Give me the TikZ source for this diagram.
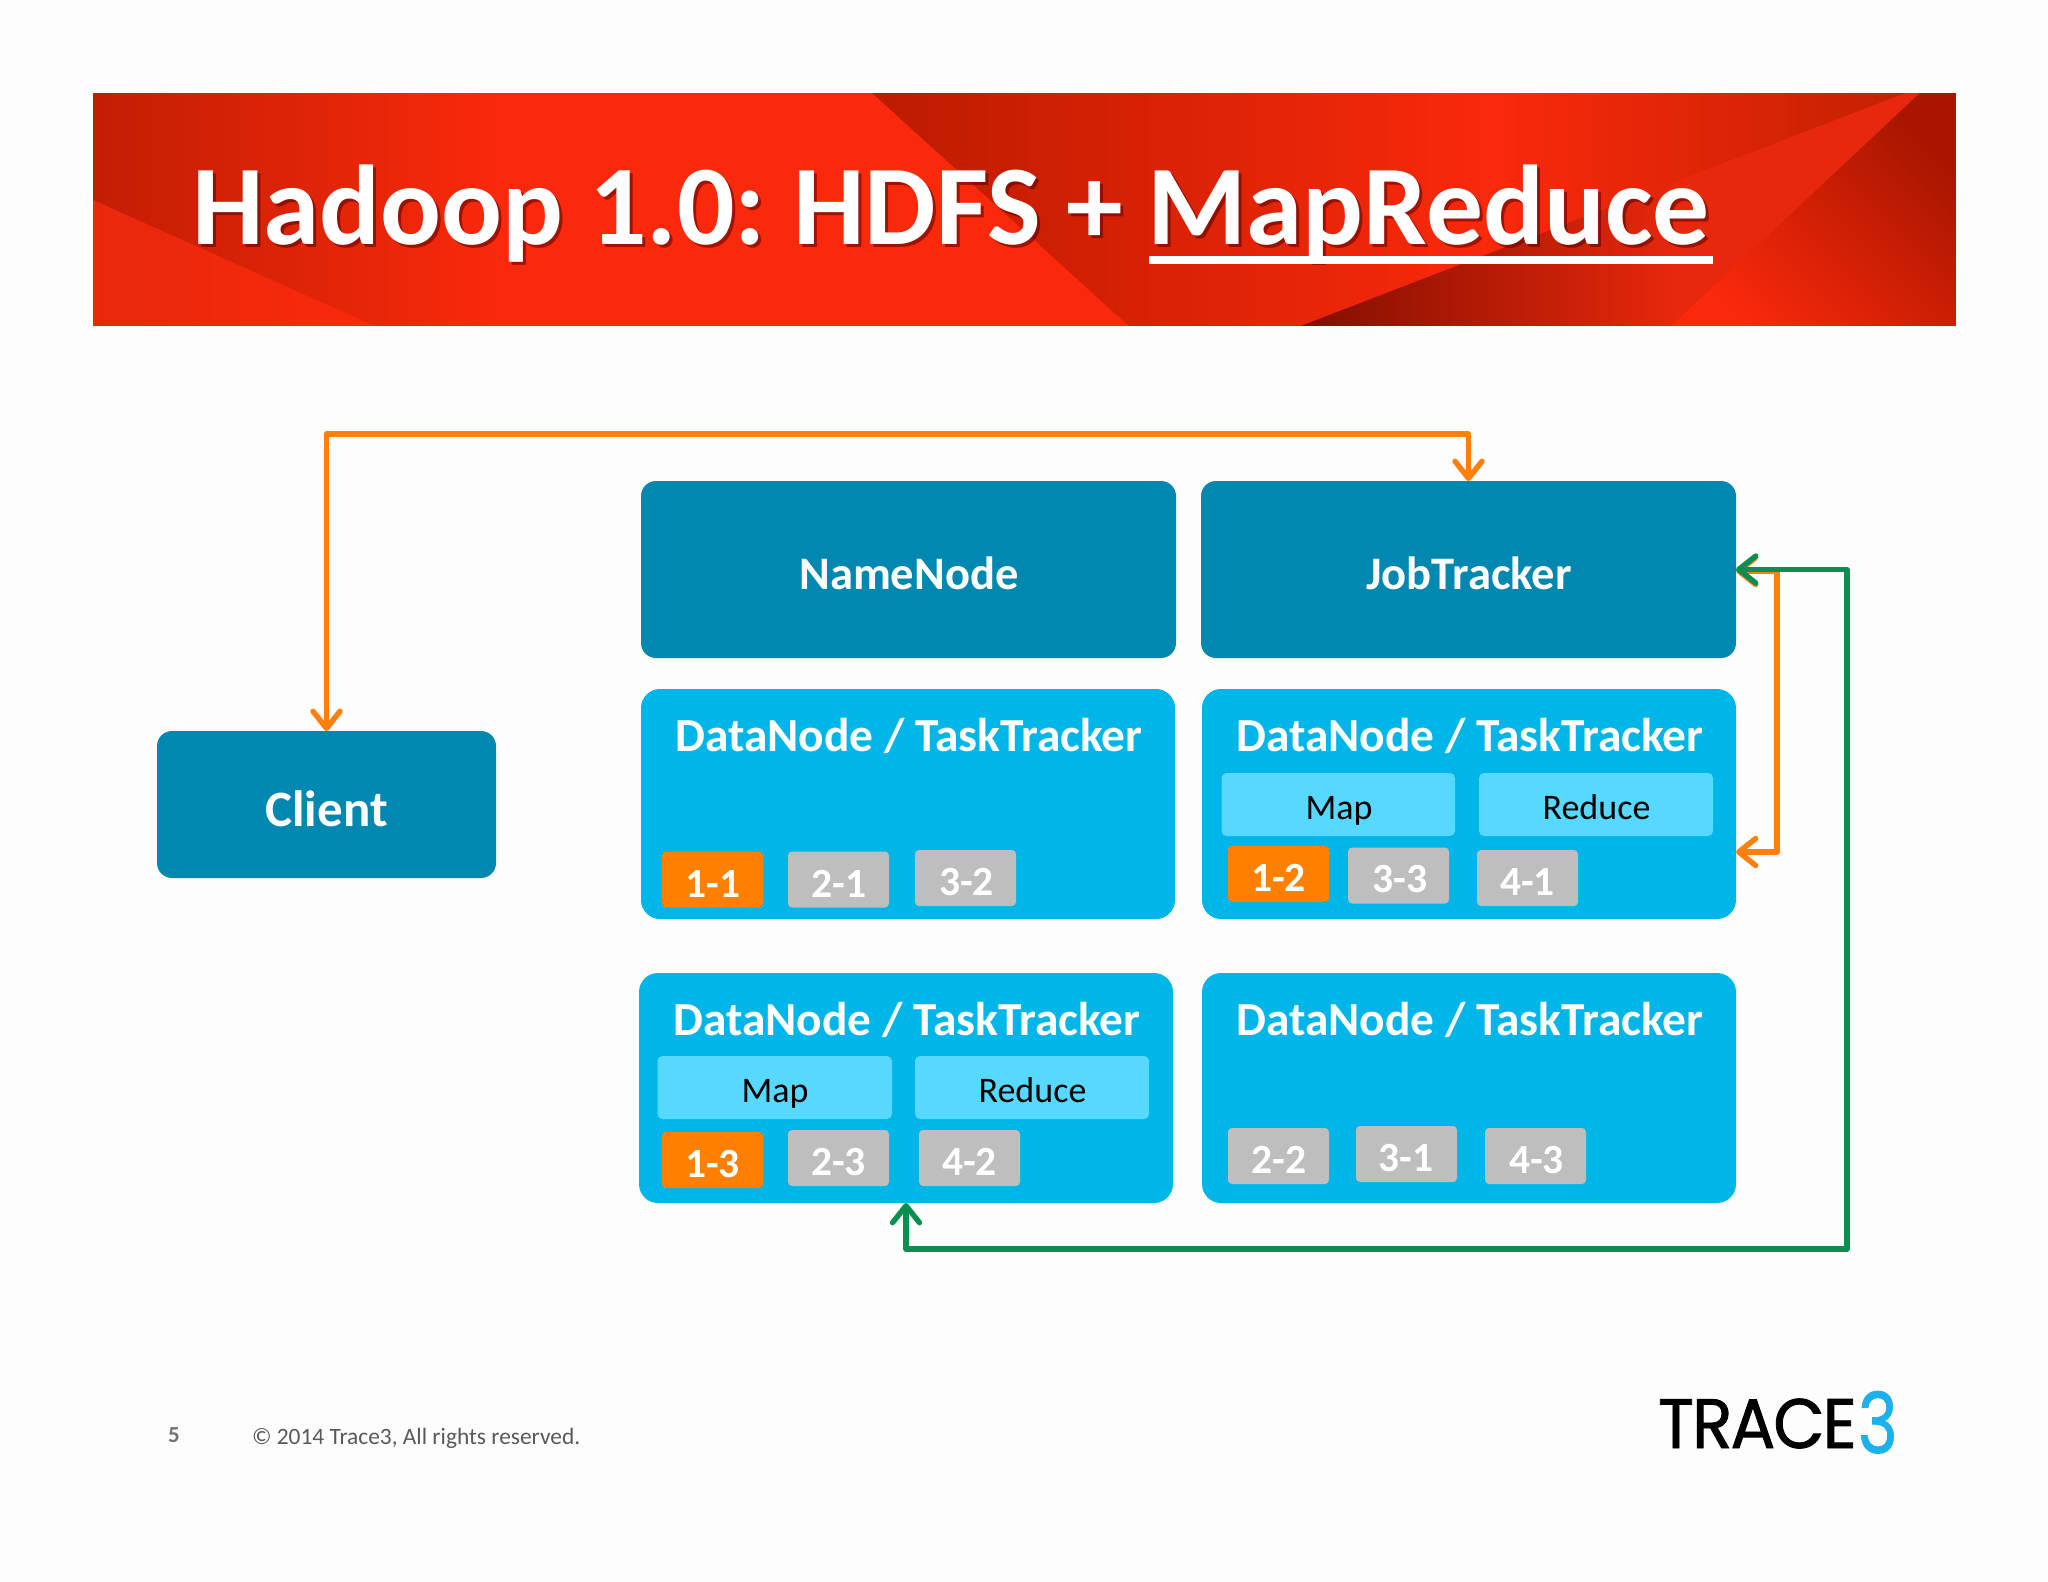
\documentclass[tikz,border=0pt]{standalone}
\usepackage{fontspec}
\usepackage{graphicx}
\setmainfont{Carlito}
\newfontfamily\logofont[FakeBold=1.2,LetterSpace=-3]{Poppins}
\usetikzlibrary{arrows.meta,calc}
\definecolor{pagebg}{HTML}{FDFDFE}
\definecolor{redbase}{HTML}{FA290B}
\definecolor{reddark}{HTML}{BC1B01}
\definecolor{redtopright}{HTML}{C42002}
\definecolor{redleft}{HTML}{C21E04}
\definecolor{reddeep}{HTML}{820E00}
\definecolor{redwedge}{HTML}{E8280C}
\definecolor{redcorner}{HTML}{A81600}
\definecolor{jobblue}{HTML}{0088B0}
\definecolor{dnblue}{HTML}{00B6E8}
\definecolor{mapblue}{HTML}{57D8FF}
\definecolor{chipgray}{HTML}{BEBEBE}
\definecolor{chiporange}{HTML}{FF7F00}
\definecolor{arroworange}{HTML}{FF7F0A}
\definecolor{arrowgreen}{HTML}{0A8F50}
\definecolor{logoblue}{HTML}{1CB0EC}
\definecolor{footgray}{HTML}{595959}
\tikzset{
  boxbase/.style={inner sep=0pt,outer sep=0pt},
  masterbox/.style={boxbase,fill=jobblue,rounded corners=15pt},
  dnbox/.style={boxbase,fill=dnblue,rounded corners=19pt},
  slotbox/.style={boxbase,fill=mapblue,rounded corners=5pt},
  graychip/.style={boxbase,fill=chipgray,rounded corners=4pt},
  orangechip/.style={boxbase,fill=chiporange,rounded corners=4pt},
  txt/.style={anchor=base,inner sep=0pt,outer sep=0pt},
  mastertxt/.style={txt,text=white,font=\fontsize{46.6}{50}\selectfont\bfseries},
  clienttxt/.style={txt,text=white,font=\fontsize{51}{54}\selectfont\bfseries},
  dntxt/.style={txt,text=white,font=\fontsize{47.4}{50}\selectfont\bfseries},
  slottxt/.style={txt,text=black,font=\fontsize{36}{39}\selectfont},
  chiptxt/.style={txt,text=white,font=\fontsize{41.5}{45}\selectfont\bfseries},
  flowboth/.style={line width=5.4pt,line join=round,arrows={Straight Barb[length=17pt,width=27pt,line width=5.4pt,round]-Straight Barb[length=17pt,width=27pt,line width=5.4pt,round]}},
  titletxt/.style={txt,anchor=base west,font=\fontsize{113.5}{120}\selectfont\bfseries},
}
\newcommand\TitleText{Hadoop 1.0:\kern-7pt{} HDFS + \kern-1pt MapReduce}
\newcommand\RBox[6]{%
  \pgfmathsetmacro\bcx{(#2+#4)/2}\pgfmathsetmacro\bcy{(#3+#5)/2}%
  \pgfmathsetmacro\bw{#4-#2}\pgfmathsetmacro\bh{#5-#3}%
  \node[#6,minimum width=\bw pt,minimum height=\bh pt] (#1) at (\bcx,\bcy) {};}
\newcommand\Chip[7]{% name x y style text textx baseline
  \pgfmathsetmacro\chx{#2+101}\pgfmathsetmacro\chy{#3+56}\pgfmathsetmacro\chb{#7+1}%
  \RBox{#1}{#2}{#3}{\chx}{\chy}{#4}%
  \node[chiptxt] (#1t) at (#6,\chb) {#5};}
\begin{document}
\begin{tikzpicture}[x=1pt,y=-1pt]
\useasboundingbox (0,0) rectangle (2048,1582);
\fill[pagebg] (0,0) rectangle (2048,1582);
% banner
\begin{scope}
\clip (93,93) rectangle (1956,327);
\fill[redbase] (93,93) rectangle (1956,327);
\shade[left color=redleft,right color=redbase] (93,93) rectangle (500,327);
\begin{scope}
  \clip (93,200) -- (377,327) -- (93,327) -- cycle;
  \shade[left color=redwedge,right color=redbase] (93,200) rectangle (377,327);
\end{scope}
\begin{scope}
  \clip (872,93) -- (1130,327) -- (1298,327) -- (1906,93) -- cycle;
  \shade[left color=reddark,right color=redbase] (872,93) rectangle (1493,327);
  \shade[left color=redbase,right color=redtopright] (1493,93) rectangle (1906,327);
\end{scope}
\begin{scope}
  \clip (1298,327) -- (1906,93) -- (1920,93) -- (1670,327) -- cycle;
  \shade[left color=reddeep,right color=redwedge] (1298,93) rectangle (1680,327);
  \fill[redwedge] (1680,93) rectangle (1920,327);
\end{scope}
\begin{scope}
  \clip (1670,327) -- (1920,93) -- (1956,93) -- (1956,327) -- cycle;
  \shade[left color=redcorner,right color=redbase,shading angle=-45] (1670,93) rectangle (1956,327);
\end{scope}
\end{scope}
\fill[pagebg] (90,325.5) rectangle (1960,330);
% title
\node[titletxt,text=black!65!red,opacity=.55] (titleshadow) at (195,247) {\TitleText};
\node[titletxt,text=white] (title) at (192,244) {\TitleText};
\fill[white] (1149,256) rectangle (1713,264);
% masters
\RBox{nn}{641}{481}{1176}{658}{masterbox}
\RBox{jt}{1201}{481}{1736}{658}{masterbox}
\node[mastertxt] (nnt) at (909,589) {NameNode};
\node[mastertxt] (jtt) at (1469,589) {JobTracker};
\RBox{client}{157}{731}{496}{878}{masterbox}
\node[clienttxt] (clientt) at (326.5,826) {Client};
% data nodes
\RBox{dna}{641}{689}{1175}{919}{dnbox}
\RBox{dnb}{1202}{689}{1736}{919}{dnbox}
\RBox{dnc}{639}{973}{1173}{1203}{dnbox}
\RBox{dnd}{1202}{973}{1736}{1203}{dnbox}
\node[dntxt] (dnat) at (909,751.5) {DataNode / TaskTracker};
\node[dntxt] (dnbt) at (1470,751.5) {DataNode / TaskTracker};
\node[dntxt] (dnct) at (907,1035.5) {DataNode / TaskTracker};
\node[dntxt] (dndt) at (1470,1035.5) {DataNode / TaskTracker};
% map/reduce
\RBox{mapb}{1221.5}{773}{1455}{836}{slotbox}
\RBox{redb}{1479}{773}{1713}{836}{slotbox}
\RBox{mapc}{657.5}{1056}{892}{1119}{slotbox}
\RBox{redc}{915}{1056}{1149}{1119}{slotbox}
\node[slottxt] (mapbt) at (1339,819) {Map};
\node[slottxt] (redbt) at (1596.5,819) {Reduce};
\node[slottxt] (mapct) at (775,1102) {Map};
\node[slottxt] (redct) at (1032.5,1102) {Reduce};
% chips
\Chip{ca}{662}{851.5}{orangechip}{1-1}{713}{896}
\Chip{cb}{788}{851.5}{graychip}{2-1}{839}{896}
\Chip{cc}{915}{850}{graychip}{3-2}{966.4}{894}
\Chip{cd}{1228}{846}{orangechip}{1-2}{1278.5}{890}
\Chip{ce}{1348}{847.5}{graychip}{3-3}{1400}{891}
\Chip{cf}{1477}{850}{graychip}{4-1}{1527.5}{894}
\Chip{cg}{662}{1132}{orangechip}{1-3}{712.6}{1176}
\Chip{ch}{788}{1130}{graychip}{2-3}{838.5}{1174}
\Chip{ci}{919}{1130}{graychip}{4-2}{969.5}{1174}
\Chip{cj}{1228}{1128}{graychip}{2-2}{1279}{1172}
\Chip{ck}{1356}{1126}{graychip}{3-1}{1406}{1170}
\Chip{cl}{1485}{1128}{graychip}{4-3}{1536.5}{1172}
% connectors
\coordinate (otop) at (0,434);
\coordinate (oright) at (1777,571);
\coordinate (obottom) at (1777,852);
\coordinate (gright) at (1847,0);
\coordinate (gbottom) at (0,1249);
\draw[flowboth,arroworange] (client.north) -- (client.north |- otop) -- (jt.north |- otop) -- (jt.north);
\draw[flowboth,arroworange] (jt.east |- oright) -- (oright) -- (obottom) -- (dnb.east |- obottom);
\draw[flowboth,arrowgreen] (jt.east) -- (gright |- jt.east) -- (gright |- gbottom) -- (dnc.south |- gbottom) -- (dnc.south);
% footer
\node[txt,text=footgray!85,font=\fontsize{23}{26}\selectfont\bfseries] (pageno) at (174,1442) {5};
\node[txt,anchor=base west,text=footgray,font=\fontsize{23.4}{26}\selectfont] (copy) at (252,1444) {© 2014 Trace3, All rights reserved.};
\node[txt,anchor=base west,font=\logofont\fontsize{70}{72}\selectfont] (logo) at (1658,1448) {\scalebox{.95}[1]{TRACE}};
\node[txt,anchor=base west,text=logoblue,font=\logofont\fontsize{84}{86}\selectfont] (logothree) at (1858,1453) {\scalebox{.8}[1]{3}};
\end{tikzpicture}
\end{document}
